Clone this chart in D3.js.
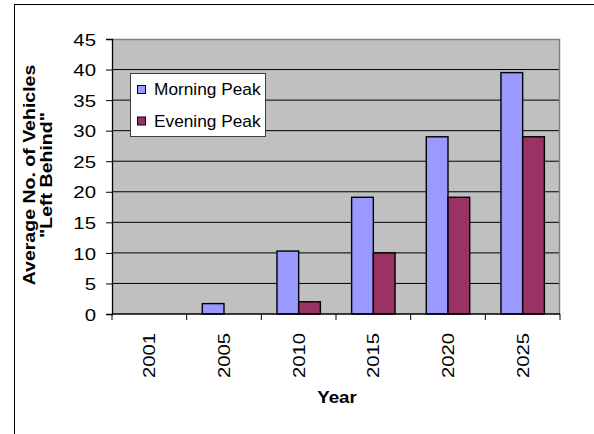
<!DOCTYPE html>
<html>
<head>
<meta charset="utf-8">
<script src="https://cdn.jsdelivr.net/npm/d3@7"></script>
<style>
  html, body { margin: 0; padding: 0; background: #fff; }
  svg { display: block; }
  text { font-family: "Liberation Sans", Arial, sans-serif; fill: #000; }
</style>
</head>
<body>
<svg id="chart" width="594" height="434"></svg>
<script>
// Average number of vehicles "left behind" per peak period, by forecast year
const years = ["2001", "2005", "2010", "2015", "2020", "2025"];
const seriesNames = ["Morning Peak", "Evening Peak"];
const morningPeak = [0, 1.7, 10.3, 19.1, 29, 39.5];
const eveningPeak = [0, 0, 2, 10, 19.1, 29];
const yTicks = [0, 5, 10, 15, 20, 25, 30, 35, 40, 45];
const colors = { "Morning Peak": "#9999ff", "Evening Peak": "#993366" };

const values = { "Morning Peak": morningPeak, "Evening Peak": eveningPeak };
const rows = years.map((year, i) => ({
  year,
  bars: seriesNames.map(name => ({ name, value: values[name][i] }))
}));

const svg = d3.select("#chart");

// frame around the chart object
svg.append("rect")
  .attr("x", 14.5).attr("y", 4.5)
  .attr("width", 700).attr("height", 600)
  .attr("fill", "#fff").attr("stroke", "#000").attr("stroke-width", 1);

const plot = { left: 112, right: 560, top: 39, bottom: 314 };

const x0 = d3.scaleBand().domain(years).range([plot.left, plot.right]).padding(0);
const x1 = d3.scaleBand().domain(seriesNames).range([0, x0.bandwidth()])
  .paddingInner(0).paddingOuter(0.72);
const y = d3.scaleLinear().domain([0, 45]).range([plot.bottom, plot.top]);

// plot background
svg.append("rect")
  .attr("x", plot.left).attr("y", plot.top)
  .attr("width", plot.right - plot.left).attr("height", plot.bottom - plot.top)
  .attr("fill", "#c0c0c0");

// horizontal gridlines
svg.append("g").selectAll("line")
  .data(yTicks.filter(t => t > 0 && t < 45))
  .join("line")
  .attr("x1", plot.left).attr("x2", plot.right)
  .attr("y1", d => y(d)).attr("y2", d => y(d))
  .attr("stroke", "#000").attr("stroke-width", 1);

// top and right edges of the plot area
svg.append("path")
  .attr("d", `M${plot.left},${plot.top + 0.5}H${plot.right - 0.5}V${plot.bottom}`)
  .attr("fill", "none").attr("stroke", "#808080").attr("stroke-width", 1.5);

// bars
const groups = svg.append("g").selectAll("g")
  .data(rows)
  .join("g")
  .attr("transform", d => `translate(${x0(d.year)},0)`);

groups.selectAll("rect")
  .data(d => d.bars.filter(b => b.value > 0))
  .join("rect")
  .attr("x", d => x1(d.name))
  .attr("width", x1.bandwidth())
  .attr("y", d => y(d.value))
  .attr("height", d => y(0) - y(d.value))
  .attr("fill", d => colors[d.name])
  .attr("stroke", "#000")
  .attr("stroke-width", 1.4);

// y axis
const yAxis = svg.append("g")
  .attr("transform", `translate(${plot.left},0)`)
  .call(d3.axisLeft(y).tickValues(yTicks).tickSize(6).tickPadding(10).tickFormat(d3.format("d")));
yAxis.select(".domain").attr("stroke", "#000").attr("stroke-width", 1.3);
yAxis.selectAll(".tick line").attr("stroke", "#000");
yAxis.selectAll(".tick text")
  .attr("x", null).attr("dy", "0.36em")
  .attr("transform", "translate(-16,0) scale(1.2,1)")
  .style("font-size", "17px").attr("fill", "#000");

// x axis baseline, category boundary ticks and rotated year labels
const xAxis = svg.append("g");
xAxis.append("line")
  .attr("x1", plot.left).attr("x2", plot.right)
  .attr("y1", plot.bottom).attr("y2", plot.bottom)
  .attr("stroke", "#000").attr("stroke-width", 1.3);
const boundaries = years.map(d => x0(d)).concat([x0.range()[1]]);
xAxis.selectAll("line.tick")
  .data(boundaries)
  .join("line")
  .attr("class", "tick")
  .attr("x1", d => d).attr("x2", d => d)
  .attr("y1", plot.bottom).attr("y2", plot.bottom + 6)
  .attr("stroke", "#000");
xAxis.selectAll("text")
  .data(years)
  .join("text")
  .attr("transform", d => `translate(${x0(d) + x0.bandwidth() / 2},333) rotate(-90) scale(1.19,1)`)
  .attr("text-anchor", "end")
  .attr("dy", "0.36em")
  .style("font-size", "17px")
  .text(d => d);

// axis titles
svg.append("text")
  .attr("transform", "translate(337,403) scale(1.1,1)")
  .attr("text-anchor", "middle")
  .style("font-size", "17px").style("font-weight", "bold")
  .text("Year");

const yTitle = svg.append("g").attr("transform", "translate(0,175)");
yTitle.append("text")
  .attr("transform", "translate(35,0) rotate(-90) scale(1.15,1)")
  .attr("text-anchor", "middle")
  .style("font-size", "17px").style("font-weight", "bold")
  .text("Average No. of Vehicles");
yTitle.append("text")
  .attr("transform", "translate(52,0) rotate(-90) scale(1.15,1)")
  .attr("text-anchor", "middle")
  .style("font-size", "17px").style("font-weight", "bold")
  .text("\"Left Behind\"");

// legend
const legend = svg.append("g").attr("transform", "translate(130,73)");
legend.append("rect")
  .attr("x", 0.5).attr("y", 0.5).attr("width", 135).attr("height", 63)
  .attr("fill", "#fff").attr("stroke", "#404040").attr("stroke-width", 1);
const items = legend.selectAll("g.item")
  .data(seriesNames)
  .join("g")
  .attr("class", "item")
  .attr("transform", (d, i) => `translate(0,${12 + i * 31.5})`);
items.append("rect")
  .attr("x", 7.5).attr("y", 0.5).attr("width", 8).attr("height", 8)
  .attr("fill", d => colors[d]).attr("stroke", "#000").attr("stroke-width", 1);
items.append("text")
  .attr("transform", "translate(24,10) scale(1.08,1)")
  .style("font-size", "16px")
  .text(d => d);
</script>
</body>
</html>
